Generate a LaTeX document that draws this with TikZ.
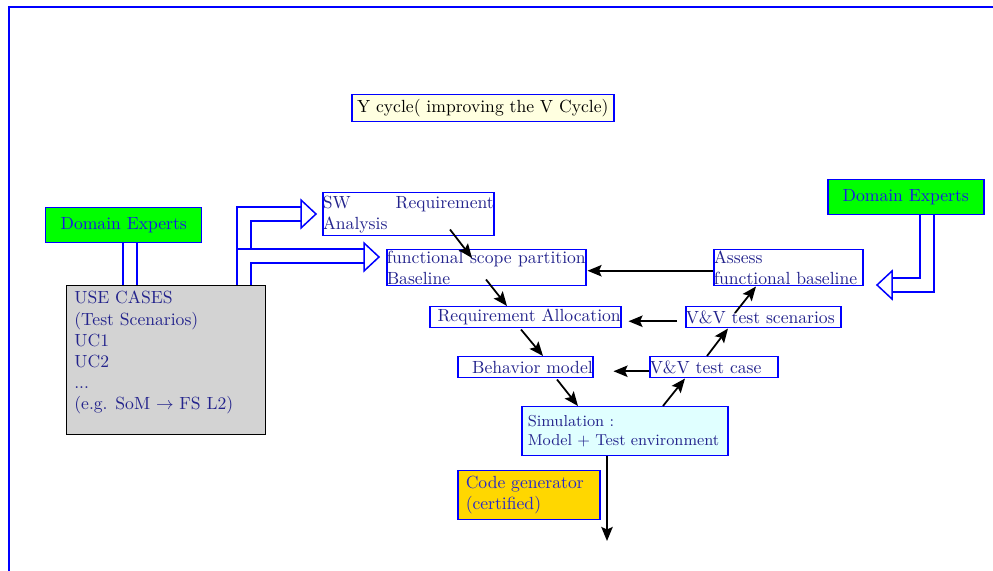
\documentclass[tikz,border=0pt]{standalone}
\usetikzlibrary{arrows.meta}
\definecolor{txtnavy}{RGB}{35,35,140}
\definecolor{debl}{RGB}{25,25,225}
\definecolor{cgbl}{RGB}{40,40,200}
\definecolor{bordbl}{RGB}{0,0,255}
\definecolor{ltyellow}{RGB}{255,255,224}
\definecolor{ltcyan}{RGB}{224,255,255}
\definecolor{gold}{RGB}{255,215,0}
\definecolor{ucgray}{RGB}{211,211,211}
\definecolor{degreen}{RGB}{0,255,0}
\def\pxu{0.568pt}
\tikzset{
  bbox/.style={draw=bordbl, line width=0.85pt, rectangle, anchor=north west, inner sep=0pt, text=txtnavy},
  debox/.style={bbox, fill=degreen, text=debl, minimum width=156*\pxu, minimum height=35*\pxu},
  arr/.style={draw=black, line width=1pt, -{Stealth[length=8pt,width=6.5pt,inset=1.5pt]}},
  fat/.style={draw=bordbl, line width=0.85pt, line join=miter},
}
\begin{document}
\begin{tikzpicture}[x=0.568pt, y=-0.568pt]
\useasboundingbox (0,0) rectangle (993,571);
\begin{scope}
\clip (0,0) rectangle (993,571);
\draw[bordbl, line width=0.75pt] (9,7) rectangle (1010,590);
\end{scope}

% title
\node[bbox, fill=ltyellow, text=black, minimum width=262*\pxu, minimum height=27*\pxu] (title) at (351,94) {Y cycle( improving the V Cycle)};

% domain experts
\node[debox] (de1) at (45,207) {Domain Experts};
\node[debox] (de2) at (827,179) {Domain Experts};

% use cases
\node[bbox, draw=black, fill=ucgray, minimum width=199*\pxu, minimum height=149*\pxu] (uc) at (66,285) {};
\node[anchor=north west, inner sep=0pt, align=left, text=txtnavy] (uctext) at (74,291) {USE CASES\\(Test Scenarios)\\UC1\\UC2\\...\\(e.g. SoM $\rightarrow$ FS L2)};

% left flow
\node[bbox, text width=171*\pxu, align=justify, minimum height=43*\pxu] (sw) at (322,192) {SW Requirement Analysis};
\node[bbox, text width=199*\pxu, align=justify, minimum height=36*\pxu] (func) at (386,249) {functional scope partition Baseline};
\node[bbox, text width=191*\pxu, align=right, minimum height=21*\pxu] (ra) at (429,306) {Requirement Allocation};
\node[bbox, text width=135*\pxu, align=right, minimum height=21*\pxu] (bm) at (457,356) {Behavior model};
\node[bbox, fill=ltcyan, font=\small, inner xsep=6*\pxu, text width=194*\pxu, align=left, minimum height=49*\pxu] (sim) at (521,406) {Simulation :\\Model + Test environment};
\node[bbox, fill=gold, text=cgbl, inner xsep=8*\pxu, text width=126*\pxu, align=left, minimum height=49*\pxu] (cg) at (457,470) {Code generator\\(certified)};

% right flow
\node[bbox, text width=149*\pxu, align=left, minimum height=36*\pxu] (as) at (713,249) {Assess\\functional baseline};
\node[bbox, text width=155*\pxu, align=left, minimum height=21*\pxu, xshift=1*\pxu] (vts) at (684,306) {V\&V test scenarios};
\node[bbox, text width=128*\pxu, align=left, minimum height=21*\pxu, xshift=1*\pxu] (vtc) at (648,356) {V\&V test case};
\coordinate (out) at (607,541);

% fat arrows left
\draw[fat] (123,242) -- (123,285);
\draw[fat] (137,242) -- (137,285);
\draw[fat] (237,285) -- (237,207) -- (301,207);
\draw[fat] (251,249) -- (251,221) -- (301,221);
\draw[fat] (301,200) -- (316,214) -- (301,228) -- cycle;
\draw[fat] (237,249) -- (364,249);
\draw[fat] (251,285) -- (251,263) -- (364,263);
\draw[fat] (364,243) -- (379,257) -- (364,271) -- cycle;

% fat arrow right
\draw[fat] (920,214) -- (920,278) -- (892,278);
\draw[fat] (934,214) -- (934,292) -- (892,292);
\draw[fat] (892,271) -- (877,285) -- (892,299) -- cycle;

% arrows
\draw[arr] ([shift={(128,-7)}]sw.south west) -- ([shift={(86,9)}]func.north west);
\draw[arr] ([shift={(100,-7)}]func.south west) -- ([shift={(78,0)}]ra.north west);
\draw[arr] ([shift={(92,1)}]ra.south west) -- ([shift={(86,0)}]bm.north west);
\draw[arr] ([shift={(100,1)}]bm.south west) -- ([shift={(57,0)}]sim.north west);
\draw[arr] ([shift={(142,0)}]sim.north west) -- ([shift={(36,0)}]vtc.south west);
\draw[arr] ([shift={(58,0)}]vtc.north west) -- ([shift={(43,0)}]vts.south west);
\draw[arr] ([shift={(50,7)}]vts.north west) -- ([shift={(43,0)}]as.south west);
\draw[arr] ([shift={(0,3)}]as.west) -- ([shift={(1,3)}]func.east);
\draw[arr] ([shift={(-8,4)}]vts.west) -- ([shift={(7,4)}]ra.east);
\draw[arr] ([shift={(0,4)}]vtc.west) -- ([shift={(20,4)}]bm.east);
\draw[arr] ([shift={(86,0)}]sim.south west) -- (out);
\end{tikzpicture}
\end{document}
